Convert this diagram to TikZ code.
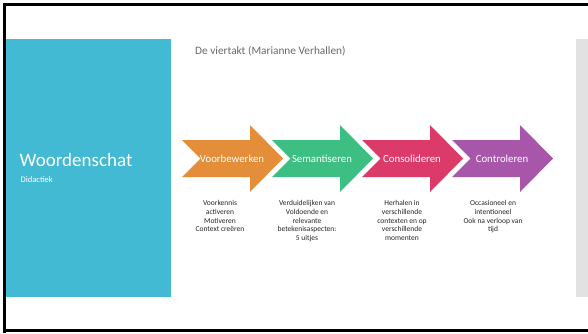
\documentclass[tikz,border=0pt]{standalone}
\usepackage{fontspec}
\setmainfont{Carlito}
\definecolor{dianblauw}{RGB}{66,186,211}
\definecolor{diangrijs}{RGB}{226,226,226}
\definecolor{titelgrijs}{RGB}{105,105,105}
\definecolor{oranje}{RGB}{229,142,58}
\definecolor{groen}{RGB}{61,190,130}
\definecolor{roze}{RGB}{220,58,105}
\definecolor{paars}{RGB}{168,86,170}
\begin{document}
\begin{tikzpicture}[x=1pt,y=-1pt,
    stapletter/.style={text=white,inner sep=0pt,font=\fontsize{10.8}{13}\selectfont},
    uitleg/.style={anchor=north,align=center,inner sep=0pt,text=black!85,font=\fontsize{7.5}{8.8}\selectfont}]
  \useasboundingbox (0,0) rectangle (588,333);
  \fill[white] (0,0) rectangle (588,333);
  \fill[dianblauw] (6,39) rectangle (171,297);
  \fill[diangrijs] (576,39) rectangle (588,297);
  \draw[line width=3pt] (4.5,333) -- (4.5,4) -- (588,4);
  \draw[line width=2.5pt] (3,330.5) -- (588,330.5);
  \node[anchor=west, inner sep=0pt, text=titelgrijs, font=\fontsize{11.3}{13}\selectfont] (titel) at (195,51) {De viertakt (Marianne Verhallen)};
  \node[anchor=west, inner sep=0pt, text=white, font=\fontsize{19}{22}\selectfont] (woordenschat) at (19.5,160) {Woordenschat};
  \node[anchor=west, inner sep=0pt, text=white, font=\fontsize{8.5}{10}\selectfont] (didactiek) at (20.5,180) {Didactiek};
  % de vier pijlen
  \fill[oranje] (182,140) -- (250,140) -- (250,125) -- (283,158.5) -- (250,192) -- (250,177) -- (182,177) -- (200.5,158.5) -- cycle;
  \fill[groen] (272,140) -- (340,140) -- (340,125) -- (373,158.5) -- (340,192) -- (340,177) -- (272,177) -- (290.5,158.5) -- cycle;
  \fill[roze] (362,140) -- (430,140) -- (430,125) -- (463,158.5) -- (430,192) -- (430,177) -- (362,177) -- (380.5,158.5) -- cycle;
  \fill[paars] (452,140) -- (520,140) -- (520,125) -- (553,158.5) -- (520,192) -- (520,177) -- (452,177) -- (470.5,158.5) -- cycle;
  \node[stapletter] (voorbewerken) at (232,158.5) {Voorbewerken};
  \node[stapletter] (semantiseren) at (322,158.5) {Semantiseren};
  \node[stapletter] (consolideren) at (412,158.5) {Consolideren};
  \node[stapletter] (controleren) at (502,158.5) {Controleren};
  % uitleg onder de pijlen
  \node[uitleg] (voorkennis) at (220,200) {Voorkennis\\activeren\\Motiveren\\Context creëren};
  \node[uitleg] (verduidelijken) at (307,200) {Verduidelijken van\\Voldoende en\\relevante\\betekenisaspecten:\\5 uitjes};
  \node[uitleg] (herhalen) at (402,200) {Herhalen in\\verschillende\\contexten en op\\verschillende\\momenten};
  \node[uitleg] (occasioneel) at (493,200) {Occasioneel en\\intentioneel\\Ook na verloop van\\tijd};
\end{tikzpicture}
\end{document}
